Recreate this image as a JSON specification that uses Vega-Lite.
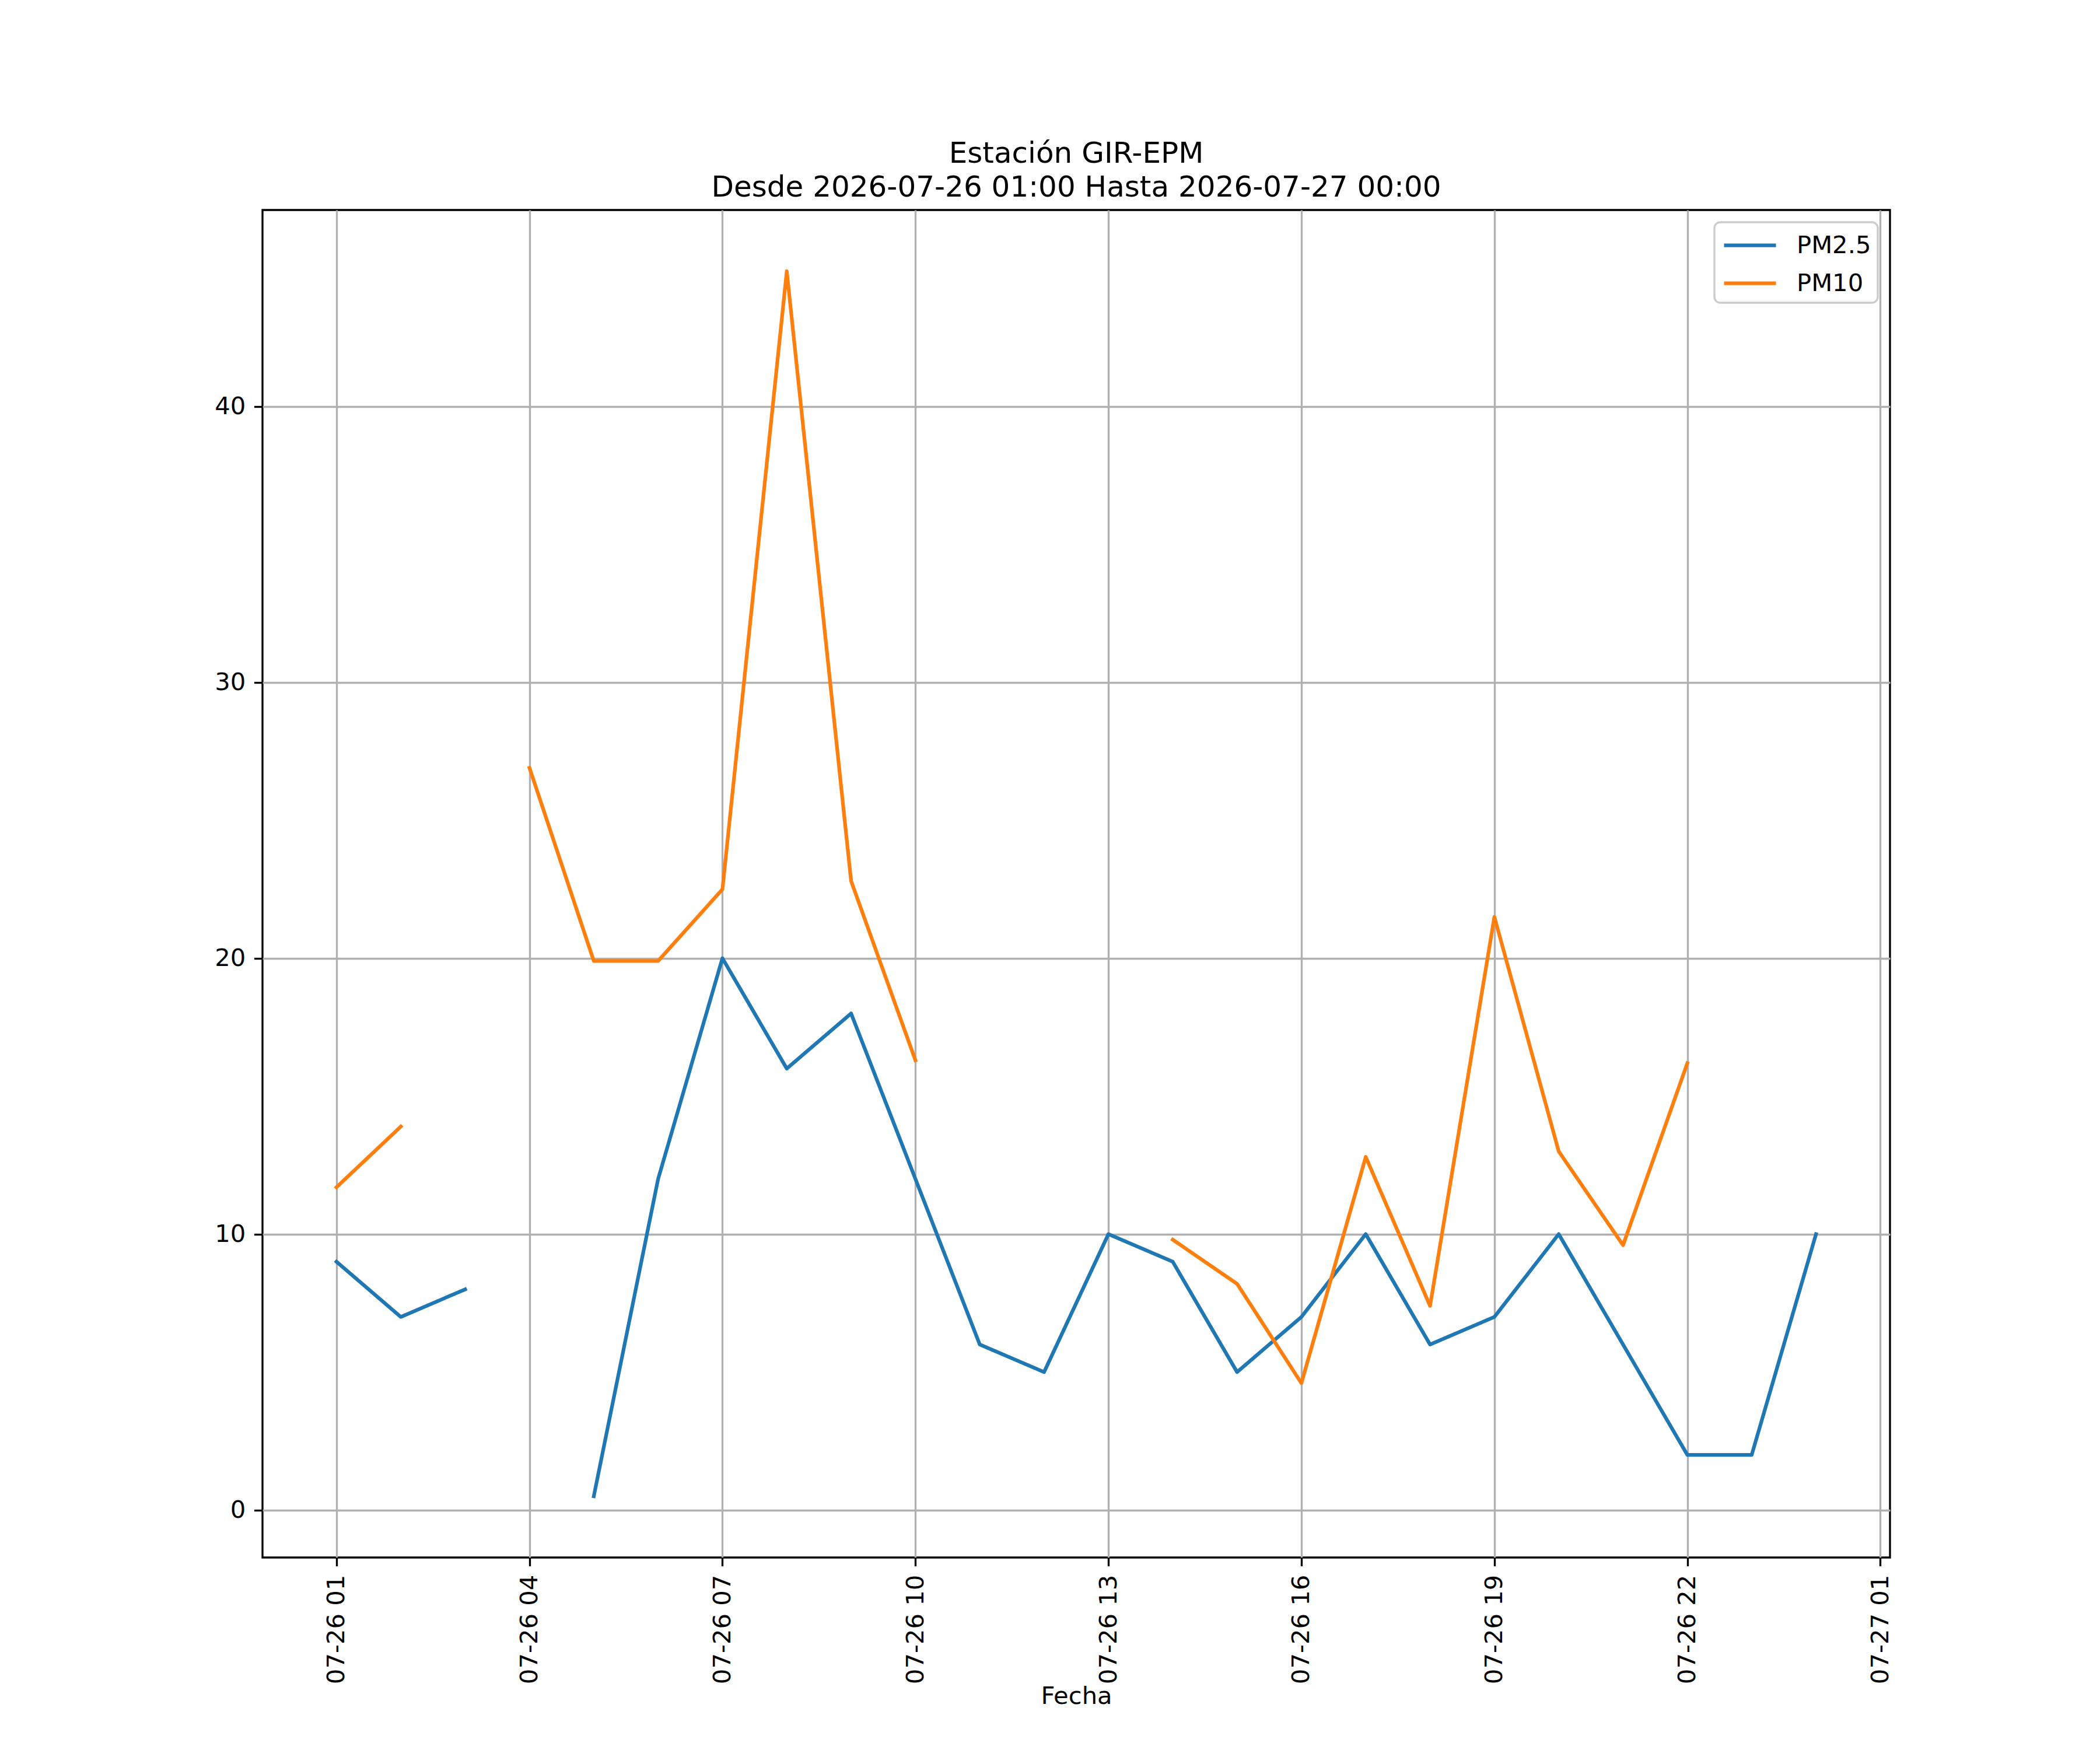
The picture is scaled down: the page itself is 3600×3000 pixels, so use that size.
{
  "$schema": "https://vega.github.io/schema/vega-lite/v6.json",
  "autosize": {"type": "none"},
  "padding": {"left": 450, "top": 360, "right": 360, "bottom": 330},
  "width": 2790,
  "height": 2310,
  "background": "white",
  "title": {
    "text": ["Estación GIR-EPM", "Desde 2026-07-26 01:00 Hasta 2026-07-27 00:00"],
    "font": "DejaVu Sans",
    "fontSize": 50,
    "fontWeight": "normal",
    "lineHeight": 58,
    "anchor": "middle",
    "offset": 13,
    "color": "black"
  },
  "data": {
    "values": [
      {"fecha": "2026-07-26T01:00:00", "contaminante": "PM2.5", "valor": 9},
      {"fecha": "2026-07-26T02:00:00", "contaminante": "PM2.5", "valor": 7},
      {"fecha": "2026-07-26T03:00:00", "contaminante": "PM2.5", "valor": 8},
      {"fecha": "2026-07-26T04:00:00", "contaminante": "PM2.5", "valor": null},
      {"fecha": "2026-07-26T05:00:00", "contaminante": "PM2.5", "valor": 0.5},
      {"fecha": "2026-07-26T06:00:00", "contaminante": "PM2.5", "valor": 12},
      {"fecha": "2026-07-26T07:00:00", "contaminante": "PM2.5", "valor": 20},
      {"fecha": "2026-07-26T08:00:00", "contaminante": "PM2.5", "valor": 16},
      {"fecha": "2026-07-26T09:00:00", "contaminante": "PM2.5", "valor": 18},
      {"fecha": "2026-07-26T10:00:00", "contaminante": "PM2.5", "valor": 12},
      {"fecha": "2026-07-26T11:00:00", "contaminante": "PM2.5", "valor": 6},
      {"fecha": "2026-07-26T12:00:00", "contaminante": "PM2.5", "valor": 5},
      {"fecha": "2026-07-26T13:00:00", "contaminante": "PM2.5", "valor": 10},
      {"fecha": "2026-07-26T14:00:00", "contaminante": "PM2.5", "valor": 9},
      {"fecha": "2026-07-26T15:00:00", "contaminante": "PM2.5", "valor": 5},
      {"fecha": "2026-07-26T16:00:00", "contaminante": "PM2.5", "valor": 7},
      {"fecha": "2026-07-26T17:00:00", "contaminante": "PM2.5", "valor": 10},
      {"fecha": "2026-07-26T18:00:00", "contaminante": "PM2.5", "valor": 6},
      {"fecha": "2026-07-26T19:00:00", "contaminante": "PM2.5", "valor": 7},
      {"fecha": "2026-07-26T20:00:00", "contaminante": "PM2.5", "valor": 10},
      {"fecha": "2026-07-26T21:00:00", "contaminante": "PM2.5", "valor": 6},
      {"fecha": "2026-07-26T22:00:00", "contaminante": "PM2.5", "valor": 2},
      {"fecha": "2026-07-26T23:00:00", "contaminante": "PM2.5", "valor": 2},
      {"fecha": "2026-07-27T00:00:00", "contaminante": "PM2.5", "valor": 10},
      {"fecha": "2026-07-26T01:00:00", "contaminante": "PM10", "valor": 11.7},
      {"fecha": "2026-07-26T02:00:00", "contaminante": "PM10", "valor": 13.9},
      {"fecha": "2026-07-26T03:00:00", "contaminante": "PM10", "valor": null},
      {"fecha": "2026-07-26T04:00:00", "contaminante": "PM10", "valor": 26.9},
      {"fecha": "2026-07-26T05:00:00", "contaminante": "PM10", "valor": 19.9},
      {"fecha": "2026-07-26T06:00:00", "contaminante": "PM10", "valor": 19.9},
      {"fecha": "2026-07-26T07:00:00", "contaminante": "PM10", "valor": 22.5},
      {"fecha": "2026-07-26T08:00:00", "contaminante": "PM10", "valor": 44.9},
      {"fecha": "2026-07-26T09:00:00", "contaminante": "PM10", "valor": 22.8},
      {"fecha": "2026-07-26T10:00:00", "contaminante": "PM10", "valor": 16.3},
      {"fecha": "2026-07-26T11:00:00", "contaminante": "PM10", "valor": null},
      {"fecha": "2026-07-26T12:00:00", "contaminante": "PM10", "valor": null},
      {"fecha": "2026-07-26T13:00:00", "contaminante": "PM10", "valor": null},
      {"fecha": "2026-07-26T14:00:00", "contaminante": "PM10", "valor": 9.8},
      {"fecha": "2026-07-26T15:00:00", "contaminante": "PM10", "valor": 8.2},
      {"fecha": "2026-07-26T16:00:00", "contaminante": "PM10", "valor": 4.6},
      {"fecha": "2026-07-26T17:00:00", "contaminante": "PM10", "valor": 12.8},
      {"fecha": "2026-07-26T18:00:00", "contaminante": "PM10", "valor": 7.4},
      {"fecha": "2026-07-26T19:00:00", "contaminante": "PM10", "valor": 21.5},
      {"fecha": "2026-07-26T20:00:00", "contaminante": "PM10", "valor": 13.0},
      {"fecha": "2026-07-26T21:00:00", "contaminante": "PM10", "valor": 9.6},
      {"fecha": "2026-07-26T22:00:00", "contaminante": "PM10", "valor": 16.2},
      {"fecha": "2026-07-26T23:00:00", "contaminante": "PM10", "valor": null},
      {"fecha": "2026-07-27T00:00:00", "contaminante": "PM10", "valor": null}
    ]
  },
  "mark": {
    "type": "line",
    "strokeWidth": 6.25,
    "strokeCap": "square",
    "strokeJoin": "round",
    "invalid": "break-paths-show-domains",
    "clip": true
  },
  "encoding": {
    "x": {
      "field": "fecha",
      "type": "temporal",
      "scale": {
        "domain": [
          {"year": 2026, "month": 7, "date": 25, "hours": 23, "minutes": 51},
          {"year": 2026, "month": 7, "date": 27, "hours": 1, "minutes": 9}
        ],
        "nice": false
      },
      "axis": {
        "title": "Fecha",
        "format": "%m-%d %H",
        "labelAngle": 270,
        "values": [
          {"year": 2026, "month": 7, "date": 26, "hours": 1},
          {"year": 2026, "month": 7, "date": 26, "hours": 4},
          {"year": 2026, "month": 7, "date": 26, "hours": 7},
          {"year": 2026, "month": 7, "date": 26, "hours": 10},
          {"year": 2026, "month": 7, "date": 26, "hours": 13},
          {"year": 2026, "month": 7, "date": 26, "hours": 16},
          {"year": 2026, "month": 7, "date": 26, "hours": 19},
          {"year": 2026, "month": 7, "date": 26, "hours": 22},
          {"year": 2026, "month": 7, "date": 27, "hours": 1}
        ]
      }
    },
    "y": {
      "field": "valor",
      "type": "quantitative",
      "scale": {"domain": [-1.72, 47.12], "nice": false, "zero": false},
      "axis": {"title": null, "values": [0, 10, 20, 30, 40]}
    },
    "color": {
      "field": "contaminante",
      "type": "nominal",
      "scale": {"domain": ["PM2.5", "PM10"], "range": ["#1f77b4", "#ff7f0e"]},
      "legend": {"title": null}
    }
  },
  "config": {
    "view": {"stroke": "black", "strokeWidth": 3.33},
    "axis": {
      "domain": false,
      "grid": true,
      "gridColor": "#b0b0b0",
      "gridWidth": 3.33,
      "gridOpacity": 1,
      "ticks": true,
      "tickColor": "black",
      "tickWidth": 3.33,
      "tickSize": 14.6,
      "labelFont": "DejaVu Sans",
      "labelFontSize": 41.7,
      "labelColor": "black",
      "labelPadding": 14.6,
      "labelFlush": false,
      "labelOverlap": false,
      "labelLimit": 1000,
      "titleFont": "DejaVu Sans",
      "titleFontSize": 41.7,
      "titleFontWeight": "normal",
      "titleColor": "black",
      "titlePadding": 17
    },
    "legend": {
      "orient": "top-right",
      "offset": 21,
      "fillColor": "white",
      "strokeColor": "#cccccc",
      "strokeWidth": 3.33,
      "cornerRadius": 10,
      "padding": 11,
      "labelFont": "DejaVu Sans",
      "labelFontSize": 41.7,
      "labelColor": "black",
      "labelOffset": 73,
      "symbolType": "M-0.92,0H2.64",
      "symbolSize": 2500,
      "symbolStrokeWidth": 6.25,
      "rowPadding": 14
    }
  }
}
